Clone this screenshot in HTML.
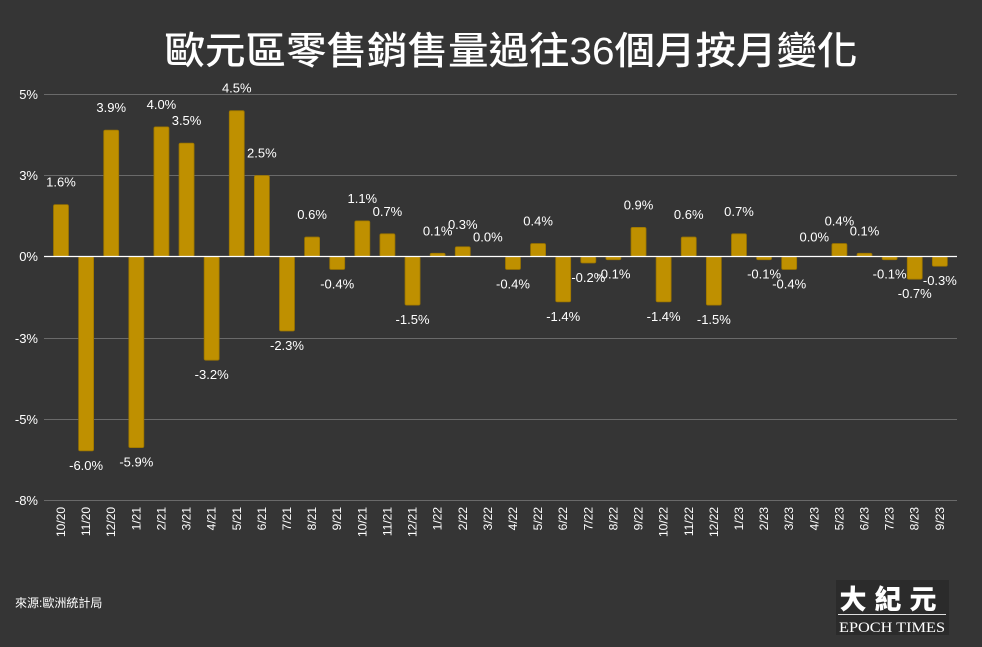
<!DOCTYPE html>
<html><head><meta charset="utf-8"><style>
html,body{margin:0;padding:0;background:#353535;}
svg{display:block}
text{font-family:"Liberation Sans","Noto Sans CJK TC",sans-serif;fill:#fff}
</style></head><body>
<svg width="982" height="647" viewBox="0 0 982 647" xmlns="http://www.w3.org/2000/svg">
<rect width="982" height="647" fill="#353535"/>
<text x="511" y="64" font-size="38" text-anchor="middle" font-weight="500" textLength="693" lengthAdjust="spacingAndGlyphs">歐元區零售銷售量過往36個月按月變化</text>
<g stroke="#6a6a6a" stroke-width="1">
<line x1="44" x2="957" y1="94.5" y2="94.5"/>
<line x1="44" x2="957" y1="175.5" y2="175.5"/>
<line x1="44" x2="957" y1="338.5" y2="338.5"/>
<line x1="44" x2="957" y1="419.5" y2="419.5"/>
<line x1="44" x2="957" y1="500.5" y2="500.5"/>
</g>
<g font-size="13" text-anchor="end">
<text x="38" y="99">5%</text>
<text x="38" y="180">3%</text>
<text x="38" y="261">0%</text>
<text x="38" y="343">-3%</text>
<text x="38" y="424">-5%</text>
<text x="38" y="505">-8%</text>
</g>
<g id="bars"></g>
<line x1="44" x2="957" y1="256.5" y2="256.5" stroke="#fff" stroke-width="1.3"/>
<g id="lbl" font-size="13" text-anchor="middle"></g>
<g id="xl" font-size="12" text-anchor="end"></g>
<text x="15" y="607" font-size="12">來源:歐洲統計局</text>
<rect x="836" y="580" width="113" height="55" fill="#2b2b2b"/>
<text x="892" y="609" font-size="27" font-weight="bold" text-anchor="middle" letter-spacing="8" style="font-family:'Noto Sans CJK TC',sans-serif;font-weight:900">大紀元</text>
<line x1="838" x2="946" y1="614.5" y2="614.5" stroke="#ddd"/>
<text x="892" y="632" font-size="15" text-anchor="middle" style="font-family:'Liberation Serif',serif" textLength="106" lengthAdjust="spacingAndGlyphs">EPOCH TIMES</text>
</svg>
<script>
var d=[["10/20",1.6],["11/20",-6.0],["12/20",3.9],["1/21",-5.9],["2/21",4.0],["3/21",3.5],["4/21",-3.2],["5/21",4.5],["6/21",2.5],["7/21",-2.3],["8/21",0.6],["9/21",-0.4],["10/21",1.1],["11/21",0.7],["12/21",-1.5],["1/22",0.1],["2/22",0.3],["3/22",0.0],["4/22",-0.4],["5/22",0.4],["6/22",-1.4],["7/22",-0.2],["8/22",-0.1],["9/22",0.9],["10/22",-1.4],["11/22",0.6],["12/22",-1.5],["1/23",0.7],["2/23",-0.1],["3/23",-0.4],["4/23",0.0],["5/23",0.4],["6/23",0.1],["7/23",-0.1],["8/23",-0.7],["9/23",-0.3]];
var ns="http://www.w3.org/2000/svg",B=document.getElementById("bars"),L=document.getElementById("lbl"),X=document.getElementById("xl");
function el(t,a,p,tx){var e=document.createElementNS(ns,t);for(var k in a)e.setAttribute(k,a[k]);if(tx!=null)e.textContent=tx;p.appendChild(e);}
d.forEach(function(v,i){var cx=61+i*25.11,h=Math.abs(v[1])*32.4,y0=256.5;
 if(h>0.5){var y=v[1]>0?y0-h:y0;el("rect",{x:cx-7.5,y:y,width:15,height:h,rx:1.5,fill:"#bf9000",stroke:"#9a7400","stroke-width":0.8},B);}
 var ly=v[1]>=0?y0-h-18:y0+h+19;if(v[1]==0)ly=y0-15;
 el("text",{x:cx,y:ly},L,v[1].toFixed(1)+"%");
 el("text",{transform:"translate("+(cx+4)+",507) rotate(-90)"},X,v[0]);
});
</script>
</body></html>
